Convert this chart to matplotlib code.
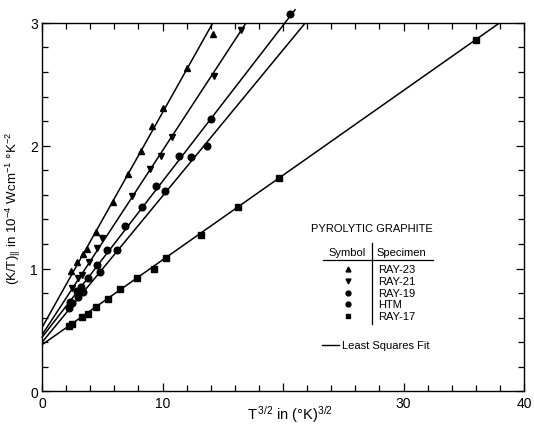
import matplotlib
matplotlib.use('Agg')
import numpy as np
import matplotlib.pyplot as plt
from matplotlib.ticker import MultipleLocator

plt.rcParams['font.family'] = ['Liberation Sans Narrow', 'Liberation Sans', 'DejaVu Sans']
plt.rcParams['mathtext.default'] = 'regular'

# T^(3/2) and (K/T), one pair of lists per specimen
ray23_x = [2.4, 2.9, 3.4, 3.7, 4.5, 5.9, 7.1, 8.2, 9.1, 10.0, 12.0, 14.2]
ray23_y = [0.98, 1.05, 1.12, 1.16, 1.30, 1.54, 1.77, 1.96, 2.16, 2.31, 2.63, 2.91]

ray21_x = [2.5, 3.0, 3.3, 3.9, 4.6, 5.0, 7.5, 9.0, 9.9, 10.8, 14.3, 16.5]
ray21_y = [0.84, 0.92, 0.95, 1.05, 1.17, 1.25, 1.59, 1.81, 1.92, 2.07, 2.57, 2.94]

ray19_x = [2.3, 2.9, 3.2, 3.8, 4.6, 5.4, 6.9, 8.3, 9.5, 11.4, 14.0, 20.6]
ray19_y = [0.73, 0.82, 0.85, 0.92, 1.03, 1.15, 1.35, 1.50, 1.67, 1.92, 2.22, 3.07]

htm_x = [2.2, 2.5, 3.0, 3.4, 4.8, 6.2, 10.2, 12.4, 13.7]
htm_y = [0.68, 0.72, 0.77, 0.81, 0.97, 1.15, 1.63, 1.91, 2.00]

ray17_x = [2.2, 2.5, 3.3, 3.8, 4.5, 5.5, 6.5, 7.9, 9.3, 10.3, 13.2, 16.3, 19.7, 36.0]
ray17_y = [0.53, 0.545, 0.605, 0.63, 0.69, 0.75, 0.83, 0.92, 1.00, 1.085, 1.27, 1.50, 1.74, 2.86]

# least squares lines as drawn: intercept, slope, last x
fit_b = [0.52, 0.46, 0.44, 0.40, 0.38]
fit_m = [0.175, 0.150, 0.127, 0.119, 0.069]
fit_xend = [14.2, 16.9, 21.0, 21.9, 38.0]

names = ['RAY-23', 'RAY-21', 'RAY-19', 'HTM', 'RAY-17']
markers = ['^', 'v', 'o', 'o', 's']
xs = [ray23_x, ray21_x, ray19_x, htm_x, ray17_x]
ys = [ray23_y, ray21_y, ray19_y, htm_y, ray17_y]

# the original leaves the 20 label out, the axis title sits there
x_ticks = [0, 10, 20, 30, 40]
x_ticklabels = ['0', '10', '', '30', '40']

fig = plt.figure(figsize=(5.34, 4.27), dpi=100)
ax = fig.add_axes([0.0787, 0.081, 0.9026, 0.863])

for i in range(5):
    xl = np.array([0, fit_xend[i]])
    # the RAY-19 line runs a little past the top of the frame in the original
    ax.plot(xl, fit_b[i] + fit_m[i] * xl, color='black', lw=1.1,
            clip_on=(names[i] != 'RAY-19'), zorder=2)
    ax.plot(xs[i], ys[i], linestyle='none', marker=markers[i], ms=4.8,
            color='black', clip_on=False, zorder=3)

ax.set_xlim(0, 40)
ax.set_ylim(0, 3)
ax.set_xticks(x_ticks)
ax.set_xticklabels(x_ticklabels)
ax.xaxis.set_minor_locator(MultipleLocator(2))
ax.yaxis.set_major_locator(MultipleLocator(1))
ax.yaxis.set_minor_locator(MultipleLocator(0.2))
ax.tick_params(which='both', direction='in', top=True, right=True, labelsize=10, width=0.9)
ax.tick_params(which='major', length=6, pad=3)
ax.tick_params(which='minor', length=4)
for s in ax.spines.values():
    s.set_linewidth(1.0)

ax.set_xlabel(r'T$^{\,3/2}$ in ($\degree$K)$^{3/2}$', fontsize=10.5)
ax.set_ylabel(r'(K/T)$_{||}$ in 10$^{-4}$ Wcm$^{-1}$ $\degree$K$^{-2}$', fontsize=9.5)
ax.xaxis.set_label_coords(0.515, -0.032)
ax.yaxis.set_label_coords(-0.04, 0.50)

# hand drawn key in the lower right
tr = ax.transAxes
ax.text(0.685, 0.443, 'PYROLYTIC GRAPHITE', transform=tr, ha='center', va='center', fontsize=8)
ax.text(0.633, 0.379, 'Symbol', transform=tr, ha='center', va='center', fontsize=8)
ax.text(0.746, 0.379, 'Specimen', transform=tr, ha='center', va='center', fontsize=8)
ax.plot([0.582, 0.811], [0.357, 0.357], color='black', lw=0.9, transform=tr)
ax.plot([0.684, 0.684], [0.183, 0.403], color='black', lw=0.9, transform=tr)
row_y = [0.332, 0.300, 0.268, 0.236, 0.204]
for i in range(5):
    ax.plot([0.634], [row_y[i]], marker=markers[i], ms=3.5, color='black', transform=tr)
    ax.text(0.697, row_y[i], names[i], transform=tr, ha='left', va='center', fontsize=8)
ax.plot([0.580, 0.617], [0.127, 0.127], color='black', lw=1.0, transform=tr)
ax.text(0.622, 0.127, 'Least Squares Fit', transform=tr, ha='left', va='center', fontsize=8)

fig.savefig('out.png', dpi=100)
